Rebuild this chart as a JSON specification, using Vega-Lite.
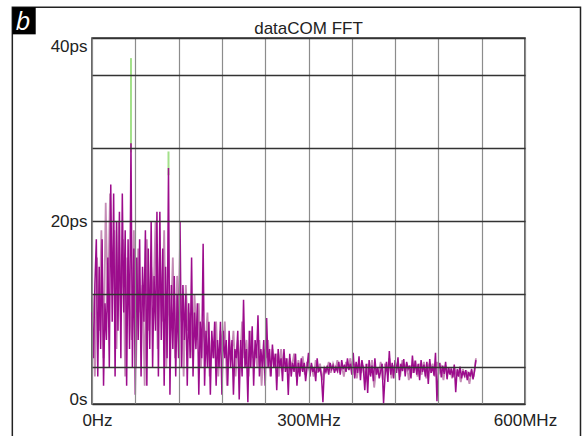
{
  "$schema": "https://vega.github.io/schema/vega-lite/v6.json",
  "width": 433,
  "height": 366,
  "autosize": {"type": "none"},
  "padding": {"left": 92, "top": 38, "right": 62, "bottom": 32},
  "background": "white",
  "config": {"view": {"stroke": "#333333", "strokeWidth": 1.5}, "font": "Liberation Sans"},
  "title": {"text": "dataCOM FFT", "fontSize": 17, "font": "Liberation Sans", "fontWeight": "normal", "color": "#222222", "offset": -31, "anchor": "middle", "frame": "group"},
  "datasets": {
    "peaks": [
      {"f": 54, "v": 37.8, "v0": 27.5},
      {"f": 106, "v": 27.6, "v0": 25}
    ],
    "annot": [
      {"label": "b"}
    ],
    "traceB": [
      {"f":1,"v":12},{"f":4,"v":3},{"f":7,"v":16},{"f":10,"v":8},{"f":13,"v":19},{"f":16,"v":5},{"f":19,"v":22},{"f":22,"v":10},{"f":25,"v":23},{"f":28,"v":12},{"f":31,"v":19},
      {"f":34,"v":6},{"f":37,"v":20},{"f":40,"v":9},{"f":43,"v":18},{"f":46,"v":3},{"f":49,"v":16},{"f":52,"v":11},{"f":55,"v":7},{"f":58,"v":19},{"f":61,"v":4},
      {"f":64,"v":17},{"f":67,"v":10},{"f":70,"v":13},{"f":73,"v":2},{"f":76,"v":18},{"f":79,"v":8},{"f":82,"v":15},{"f":85,"v":11},{"f":88,"v":20},{"f":91,"v":6},
      {"f":94,"v":16},{"f":97,"v":9},{"f":100,"v":19},{"f":103,"v":4},{"f":106,"v":12},{"f":109,"v":8},{"f":112,"v":16},{"f":115,"v":5},{"f":118,"v":14},{"f":121,"v":9},
      {"f":124,"v":12},{"f":127,"v":3},{"f":130,"v":13},{"f":133,"v":8},{"f":136,"v":10},{"f":139,"v":5},{"f":142,"v":12},{"f":145,"v":7},{"f":148,"v":11},{"f":151,"v":4},
      {"f":154,"v":9},{"f":157,"v":6},{"f":160,"v":10},{"f":163,"v":3},{"f":166,"v":7},{"f":169,"v":5},{"f":172,"v":9},{"f":175,"v":3},{"f":178,"v":8},{"f":181,"v":6},
      {"f":184,"v":9},{"f":187,"v":2},{"f":190,"v":7},{"f":193,"v":5},{"f":196,"v":8},{"f":199,"v":3},{"f":202,"v":7},{"f":205,"v":4},{"f":208,"v":9},{"f":211,"v":5},
      {"f":214,"v":7},{"f":217,"v":3},{"f":220,"v":8},{"f":223,"v":5},{"f":226,"v":6},{"f":229,"v":4},{"f":232,"v":7},{"f":235,"v":2},{"f":238,"v":6},{"f":241,"v":5},
      {"f":244,"v":7},{"f":247,"v":3},{"f":250,"v":6},{"f":253,"v":4},{"f":256,"v":5.5},{"f":259,"v":3},{"f":262,"v":6},{"f":265,"v":4},{"f":268,"v":5},{"f":271,"v":3.5},
      {"f":274,"v":5},{"f":277,"v":4},{"f":280,"v":5.5},{"f":283,"v":3},{"f":286,"v":4.8},{"f":289,"v":3.6},{"f":292,"v":5.2},{"f":295,"v":3.2},{"f":298,"v":4.6},{"f":301,"v":3.8},
      {"f":304,"v":4.2},{"f":307,"v":3},{"f":310,"v":4.8},{"f":313,"v":3.4},{"f":316,"v":4.4},{"f":319,"v":2.6},{"f":322,"v":4},{"f":325,"v":3.6},{"f":328,"v":4.6},{"f":331,"v":3.4},
      {"f":334,"v":4.4},{"f":337,"v":3.6},{"f":340,"v":4.8},{"f":343,"v":3.4},{"f":346,"v":4.2},{"f":349,"v":3},{"f":352,"v":4.6},{"f":355,"v":3.8},{"f":358,"v":5},{"f":361,"v":3.2},
      {"f":364,"v":4.4},{"f":367,"v":2.8},{"f":370,"v":4.6},{"f":373,"v":3.4},{"f":376,"v":4.2},{"f":379,"v":2.4},{"f":382,"v":4.4},{"f":385,"v":3.2},{"f":388,"v":4.8},{"f":391,"v":1.8},
      {"f":394,"v":4},{"f":397,"v":3.2},{"f":400,"v":4.6},{"f":403,"v":2.6},{"f":406,"v":4.4},{"f":409,"v":3.6},{"f":412,"v":5},{"f":415,"v":2.8},{"f":418,"v":4.2},{"f":421,"v":3.4},
      {"f":424,"v":4.6},{"f":427,"v":3},{"f":430,"v":4.8},{"f":433,"v":3.6},{"f":436,"v":4.4},{"f":439,"v":2.6},{"f":442,"v":4.2},{"f":445,"v":3.4},{"f":448,"v":4.8},{"f":451,"v":3},
      {"f":454,"v":4.4},{"f":457,"v":3.2},{"f":460,"v":4.6},{"f":463,"v":2.8},{"f":466,"v":4.2},{"f":469,"v":3.6},{"f":472,"v":4.4},{"f":475,"v":3},{"f":478,"v":4.6},{"f":481,"v":3.4},
      {"f":484,"v":4},{"f":487,"v":2.6},{"f":490,"v":4.2},{"f":493,"v":3.4},{"f":496,"v":3.8},{"f":499,"v":2.8},{"f":502,"v":4},{"f":505,"v":3.2},{"f":508,"v":3.6},{"f":511,"v":2.4},
      {"f":514,"v":3.8},{"f":517,"v":3},{"f":520,"v":3.4},{"f":523,"v":2.2},{"f":526,"v":3.6},{"f":529,"v":3},{"f":532,"v":5}
    ],
    "traceA": [
      {"f":0,"v":10},{"f":2,"v":5},{"f":4,"v":13},{"f":6,"v":18},{"f":8,"v":3},{"f":10,"v":15},{"f":12,"v":6},{"f":14,"v":18},{"f":16,"v":2},{"f":18,"v":11},
      {"f":20,"v":7},{"f":22,"v":16},{"f":24,"v":4},{"f":26,"v":24},{"f":28,"v":9},{"f":30,"v":23},{"f":32,"v":3},{"f":34,"v":20},{"f":36,"v":8},{"f":38,"v":21},
      {"f":40,"v":5},{"f":42,"v":23},{"f":44,"v":10},{"f":46,"v":19},{"f":48,"v":2},{"f":50,"v":18},{"f":52,"v":6},{"f":54,"v":28.5},{"f":56,"v":4},{"f":58,"v":17},
      {"f":60,"v":1},{"f":62,"v":16},{"f":64,"v":7},{"f":66,"v":18},{"f":68,"v":3},{"f":70,"v":15},{"f":72,"v":9},{"f":74,"v":19},{"f":76,"v":2},{"f":78,"v":17},
      {"f":80,"v":6},{"f":82,"v":20},{"f":84,"v":4},{"f":86,"v":14},{"f":88,"v":8},{"f":90,"v":21},{"f":92,"v":3},{"f":94,"v":21},{"f":96,"v":7},{"f":98,"v":17},
      {"f":100,"v":2},{"f":102,"v":15},{"f":104,"v":5},{"f":106,"v":25.8},{"f":108,"v":1},{"f":110,"v":13},{"f":112,"v":6},{"f":114,"v":14},{"f":116,"v":3},{"f":118,"v":12},
      {"f":120,"v":5},{"f":122,"v":20},{"f":124,"v":4},{"f":126,"v":13},{"f":128,"v":7},{"f":130,"v":12},{"f":132,"v":2},{"f":134,"v":11},{"f":136,"v":5},{"f":138,"v":16},
      {"f":140,"v":3},{"f":142,"v":10},{"f":144,"v":6},{"f":146,"v":11},{"f":148,"v":1},{"f":150,"v":9},{"f":152,"v":5},{"f":154,"v":17.5},{"f":156,"v":2},{"f":158,"v":8},
      {"f":160,"v":4},{"f":162,"v":9},{"f":164,"v":1},{"f":166,"v":8},{"f":168,"v":5},{"f":170,"v":9},{"f":172,"v":2},{"f":174,"v":7},{"f":176,"v":4},{"f":178,"v":9},
      {"f":180,"v":1},{"f":182,"v":8},{"f":184,"v":5},{"f":186,"v":7},{"f":188,"v":2},{"f":190,"v":8},{"f":192,"v":4},{"f":194,"v":7},{"f":196,"v":1},{"f":198,"v":6},
      {"f":200,"v":5},{"f":202,"v":8},{"f":204,"v":0.5},{"f":206,"v":7},{"f":208,"v":3},{"f":210,"v":11.4},{"f":212,"v":4},{"f":214,"v":6},{"f":216,"v":0.2},{"f":218,"v":8},
      {"f":220,"v":4},{"f":222,"v":8.5},{"f":224,"v":2},{"f":226,"v":7},{"f":228,"v":5},{"f":230,"v":9.7},{"f":232,"v":3},{"f":234,"v":6},{"f":236,"v":4},{"f":238,"v":7},
      {"f":240,"v":2},{"f":242,"v":9.4},{"f":244,"v":4},{"f":246,"v":6},{"f":248,"v":3},{"f":250,"v":6.5},{"f":252,"v":4},{"f":254,"v":5.5},{"f":256,"v":1.5},{"f":258,"v":6},
      {"f":260,"v":4},{"f":262,"v":5},{"f":264,"v":2.5},{"f":266,"v":6},{"f":268,"v":3.5},{"f":270,"v":5},{"f":272,"v":1},{"f":274,"v":5.5},{"f":276,"v":3},{"f":278,"v":4.5},
      {"f":280,"v":3.5},{"f":282,"v":5.5},{"f":284,"v":2},{"f":286,"v":4.5},{"f":288,"v":3},{"f":290,"v":5},{"f":292,"v":3.5},{"f":294,"v":4.5},{"f":296,"v":2.5},{"f":298,"v":4},
      {"f":300,"v":5.6},{"f":302,"v":3},{"f":304,"v":4.5},{"f":306,"v":3.5},{"f":308,"v":4},{"f":310,"v":2.5},{"f":312,"v":5},{"f":314,"v":3.5},{"f":316,"v":4},{"f":318,"v":3},
      {"f":320,"v":0.2},{"f":322,"v":4},{"f":324,"v":3.5},{"f":326,"v":4.2},{"f":328,"v":3.2},{"f":330,"v":4.5},{"f":332,"v":3.8},{"f":334,"v":4.2},{"f":336,"v":3.4},{"f":338,"v":4},
      {"f":340,"v":3.6},{"f":342,"v":4.6},{"f":344,"v":3.2},{"f":346,"v":4.8},{"f":348,"v":3.8},{"f":350,"v":4.3},{"f":352,"v":3.5},{"f":354,"v":5},{"f":356,"v":3.7},{"f":358,"v":4.4},
      {"f":360,"v":3.2},{"f":362,"v":5.6},{"f":364,"v":2.8},{"f":366,"v":4.6},{"f":368,"v":3.4},{"f":370,"v":5.2},{"f":372,"v":2.6},{"f":374,"v":4.8},{"f":376,"v":3.9},{"f":378,"v":1.5},
      {"f":380,"v":4.4},{"f":382,"v":1.2},{"f":384,"v":4.8},{"f":386,"v":3},{"f":388,"v":4.2},{"f":390,"v":2.5},{"f":392,"v":5},{"f":394,"v":3.2},{"f":396,"v":4},{"f":398,"v":2.8},
      {"f":400,"v":3.6},{"f":402,"v":4.4},{"f":404,"v":0.1},{"f":406,"v":3},{"f":408,"v":4.6},{"f":410,"v":2.4},{"f":412,"v":5.8},{"f":414,"v":3.2},{"f":416,"v":4.5},{"f":418,"v":2.8},
      {"f":420,"v":4.8},{"f":422,"v":3.4},{"f":424,"v":5.1},{"f":426,"v":2.6},{"f":428,"v":4.4},{"f":430,"v":3.6},{"f":432,"v":4.9},{"f":434,"v":3},{"f":436,"v":4.6},{"f":438,"v":3.8},
      {"f":440,"v":4.2},{"f":442,"v":2.8},{"f":444,"v":5.3},{"f":446,"v":3.4},{"f":448,"v":4.7},{"f":450,"v":3.2},{"f":452,"v":4.4},{"f":454,"v":2.6},{"f":456,"v":4.8},{"f":458,"v":3.5},
      {"f":460,"v":4.3},{"f":462,"v":3},{"f":464,"v":4.6},{"f":466,"v":2.2},{"f":468,"v":4.9},{"f":470,"v":3.4},{"f":472,"v":4.1},{"f":474,"v":3.1},{"f":476,"v":5.6},{"f":478,"v":0.3},
      {"f":480,"v":3.8},{"f":482,"v":4.5},{"f":484,"v":2.9},{"f":486,"v":4.2},{"f":488,"v":3.3},{"f":490,"v":4.6},{"f":492,"v":2.7},{"f":494,"v":4},{"f":496,"v":3.2},{"f":498,"v":3.9},
      {"f":500,"v":2.9},{"f":502,"v":4.3},{"f":504,"v":1.3},{"f":506,"v":3.8},{"f":508,"v":3},{"f":510,"v":4.1},{"f":512,"v":2.8},{"f":514,"v":3.6},{"f":516,"v":3.1},{"f":518,"v":3.7},
      {"f":520,"v":2.6},{"f":522,"v":3.5},{"f":524,"v":3},{"f":526,"v":3.8},{"f":528,"v":2.7},{"f":530,"v":3.6},{"f":532,"v":4.8}
    ]
  },
  "layer": [
    {
      "data": {"name": "peaks"},
      "mark": {"type": "rule", "color": "#a3e08a", "strokeWidth": 2},
      "encoding": {
        "x": {
          "field": "f", "type": "quantitative", "title": null,
          "scale": {"domain": [0, 600], "nice": false, "zero": false},
          "axis": {
            "values": [0, 60, 120, 180, 240, 300, 360, 420, 480, 540, 600],
            "labelExpr": "datum.value == 0 ? '0Hz' : (datum.value == 300 || datum.value == 600) ? datum.value + 'MHz' : ''",
            "grid": true, "gridColor": "#8c8c8c", "gridWidth": 1.2, "gridOpacity": 1,
            "ticks": false, "domain": false, "labelPadding": 8, "labelFontSize": 17,
            "labelOffset": {"condition": {"test": "datum.value == 0", "value": 5}, "value": 0},
            "labelColor": "#222222", "labelFont": "Liberation Sans", "labelOverlap": false, "labelFlush": false, "zindex": 1
          }
        },
        "y": {
          "field": "v", "type": "quantitative", "title": null,
          "scale": {"domain": [0, 40], "nice": false},
          "axis": {
            "values": [0, 4, 12, 20, 28, 36, 40],
            "labelExpr": "datum.value == 0 ? '0s' : (datum.value == 20 || datum.value == 40) ? datum.value + 'ps' : ''",
            "grid": true, "gridColor": "#333333", "gridWidth": 1.3, "gridOpacity": 1,
            "ticks": false, "domain": false, "labelPadding": 5, "labelFontSize": 17,
            "labelOffset": {"condition": {"test": "datum.value == 0", "value": 4}, "value": 0},
            "labelColor": "#222222", "labelFont": "Liberation Sans", "labelOverlap": false, "labelFlush": true, "zindex": 1
          }
        },
        "y2": {"field": "v0"}
      }
    },
    {
      "data": {"name": "traceB"},
      "mark": {"type": "line", "color": "#c48cb6", "strokeWidth": 1.8},
      "encoding": {
        "x": {"field": "f", "type": "quantitative"},
        "y": {"field": "v", "type": "quantitative"}
      }
    },
    {
      "data": {"name": "traceA"},
      "mark": {"type": "line", "color": "#9c0c8c", "strokeWidth": 1.5},
      "encoding": {
        "x": {"field": "f", "type": "quantitative"},
        "y": {"field": "v", "type": "quantitative"}
      }
    },
    {
      "data": {"name": "annot"},
      "mark": {"type": "rect", "filled": false, "stroke": "#222222", "strokeWidth": 1.5, "clip": false},
      "encoding": {
        "x": {"datum": -110.4, "type": "quantitative"}, "x2": {"datum": 676.9},
        "y": {"datum": 43.36, "type": "quantitative"}, "y2": {"datum": -6}
      }
    },
    {
      "data": {"name": "annot"},
      "mark": {"type": "rect", "filled": true, "color": "#000000", "clip": false},
      "encoding": {
        "x": {"datum": -110.4, "type": "quantitative"}, "x2": {"datum": -78},
        "y": {"datum": 43.36, "type": "quantitative"}, "y2": {"datum": 40.4}
      }
    },
    {
      "data": {"name": "annot"},
      "mark": {"type": "text", "color": "#ffffff", "font": "Open Sans", "fontSize": 26, "fontStyle": "italic", "align": "center", "baseline": "alphabetic", "clip": false},
      "encoding": {
        "x": {"datum": -95.6, "type": "quantitative"}, "y": {"datum": 40.87, "type": "quantitative"},
        "text": {"field": "label"}
      }
    }
  ]
}
